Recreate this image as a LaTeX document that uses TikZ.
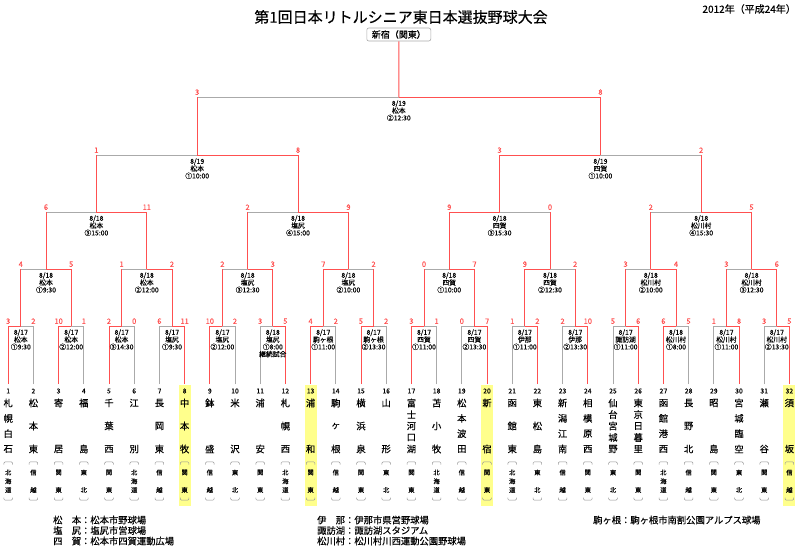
\documentclass[tikz,border=0pt]{standalone}
\usepackage{fontspec}
\setmainfont{Noto Sans CJK JP}[FakeBold=0.25]
\definecolor{lred}{RGB}{255,80,80}
\definecolor{lgray}{RGB}{170,170,170}
\definecolor{hlc}{RGB}{255,255,140}
\definecolor{brkc}{RGB}{150,150,150}

% match of round #1, index #2, scores #3 #4, winner #5 (0 left, 1 right), label #6
\newcommand\mt[6]{%
 \pgfmathtruncatemacro\rc{#1-1}%
 \pgfmathtruncatemacro\kl{2*#2-1}%
 \pgfmathtruncatemacro\kr{2*#2}%
 \pgfmathsetmacro\xL{8.2+((\kl-1)*2^\rc+(2^\rc-1)/2)*25.2}%
 \pgfmathsetmacro\xR{\xL+2^\rc*25.2}%
 \pgfmathsetmacro\xC{(\xL+\xR)/2}%
 \pgfmathsetmacro\yC{{384,326,269,212,155,97}[#1]}%
 \coordinate (m#1-#2) at (\xC,\yC);%
 \coordinate (m#1-#2L) at (\xL,\yC);%
 \coordinate (m#1-#2R) at (\xR,\yC);%
 \draw[grayln] (m#1-#2L) -- (m#1-#2R);%
 \ifnum#5=0
   \ifnum#1=1 \draw[grayln] (m\rc-\kr) -- (m#1-#2R);\else \draw[redln] (m\rc-\kr) -- (m#1-#2R);\fi
   \draw[redln] (m\rc-\kl) -- (m#1-#2L) -- (m#1-#2);%
 \else
   \ifnum#1=1 \draw[grayln] (m\rc-\kl) -- (m#1-#2L);\else \draw[redln] (m\rc-\kl) -- (m#1-#2L);\fi
   \draw[redln] (m\rc-\kr) -- (m#1-#2R) -- (m#1-#2);%
 \fi
 \node[score] (s#1-#2L) at (\xL,\yC-4.8) {#3};%
 \node[score] (s#1-#2R) at (\xR,\yC-4.8) {#4};%
 \node[mlabel] (l#1-#2) at (\xC,\yC+3.2) {#6};%
}

% team #1, #2 chars of name #3, #4 chars of region #5, highlight #6
\newcommand\team[6]{%
 \pgfmathsetmacro\tx{8.2+(#1-1)*25.2}%
 \ifnum#6=1 \fill[hlc] (\tx-6,385) rectangle (\tx+6,506);\fi
 \coordinate (m0-#1) at (\tx,384);%
 \node[tnum] (num#1) at (\tx,391) {#1};%
 \foreach \c [count=\k] in {#3} {\pgfmathsetmacro\cy{403+(\k-1)*46/(#2-1)}\node[tname] (nm#1-\k) at (\tx,\cy) {\c};}%
 \foreach \c [count=\k] in {#5} {\pgfmathsetmacro\cy{472.5+(\k-1)*17.5/(#4-1)}\node[treg] (rg#1-\k) at (\tx,\cy) {\c};}%
 \draw[brk] (\tx-4.3,464.5) -- (\tx-4.3,461.8) -- (\tx+4.3,461.8) -- (\tx+4.3,464.5);%
 \draw[brk] (\tx-4.3,497.5) -- (\tx-4.3,500.2) -- (\tx+4.3,500.2) -- (\tx+4.3,497.5);%
}

\begin{document}
\begin{tikzpicture}[x=1pt,y=-1pt,
 redln/.style={draw=lred,line width=0.95pt},
 grayln/.style={draw=lgray,line width=0.95pt},
 score/.style={text=lred,font=\fontsize{7.5}{7.5}\selectfont,inner sep=0pt},
 mlabel/.style={font=\fontsize{6.8}{7.3}\selectfont,align=center,inner sep=0pt,anchor=north},
 tnum/.style={font=\fontsize{6.8}{6.8}\selectfont,inner sep=0pt},
 tname/.style={font=\fontsize{9.3}{9.3}\selectfont,inner sep=0pt},
 treg/.style={font=\fontsize{6.3}{6.3}\selectfont,inner sep=0pt},
 brk/.style={draw=brkc,line width=0.5pt,rounded corners=1.2pt},
 legend/.style={font=\fontsize{9.3}{10.5}\selectfont,inner sep=0pt,anchor=west}]
\fill[white] (0,0) rectangle (800,547);
\useasboundingbox (0,0) rectangle (800,547);

\node[font=\fontsize{15}{15}\selectfont,inner sep=0pt] (title) at (401,17) {第1回日本リトルシニア東日本選抜野球大会};
\node[font=\fontsize{10}{10}\selectfont,inner sep=0pt,anchor=east] (year) at (796,9) {2012年（平成24年）};

\team{1}{4}{札,幌,白,石}{3}{北,海,道}{0}
\team{2}{3}{松,本,東}{2}{信,越}{0}
\team{3}{2}{寄,居}{2}{関,東}{0}
\team{4}{2}{福,島}{2}{東,北}{0}
\team{5}{3}{千,葉,西}{2}{関,東}{0}
\team{6}{2}{江,別}{3}{北,海,道}{0}
\team{7}{3}{長,岡,東}{2}{信,越}{0}
\team{8}{3}{中,本,牧}{2}{関,東}{1}
\team{9}{2}{鉢,盛}{2}{信,越}{0}
\team{10}{2}{米,沢}{2}{東,北}{0}
\team{11}{2}{浦,安}{2}{関,東}{0}
\team{12}{3}{札,幌,西}{3}{北,海,道}{0}
\team{13}{2}{浦,和}{2}{関,東}{1}
\team{14}{3}{駒,ヶ,根}{2}{信,越}{0}
\team{15}{3}{横,浜,泉}{2}{関,東}{0}
\team{16}{2}{山,形}{2}{東,北}{0}
\team{17}{5}{富,士,河,口,湖}{2}{関,東}{0}
\team{18}{3}{苫,小,牧}{3}{北,海,道}{0}
\team{19}{4}{松,本,波,田}{2}{信,越}{0}
\team{20}{2}{新,宿}{2}{関,東}{1}
\team{21}{3}{函,館,東}{3}{北,海,道}{0}
\team{22}{3}{東,松,島}{2}{東,北}{0}
\team{23}{4}{新,潟,江,南}{2}{信,越}{0}
\team{24}{4}{相,模,原,西}{2}{関,東}{0}
\team{25}{5}{仙,台,宮,城,野}{2}{東,北}{0}
\team{26}{5}{東,京,日,暮,里}{2}{関,東}{0}
\team{27}{4}{函,館,港,西}{3}{北,海,道}{0}
\team{28}{3}{長,野,北}{2}{信,越}{0}
\team{29}{2}{昭,島}{2}{関,東}{0}
\team{30}{4}{宮,城,臨,空}{2}{東,北}{0}
\team{31}{2}{瀬,谷}{2}{関,東}{0}
\team{32}{2}{須,坂}{2}{信,越}{1}

% round 1
\mt{1}{1}{3}{2}{0}{8/17\\松本\\①9:30}
\mt{1}{2}{10}{1}{0}{8/17\\松本\\②12:00}
\mt{1}{3}{2}{0}{0}{8/17\\松本\\③14:30}
\mt{1}{4}{6}{11}{1}{8/17\\塩尻\\①9:30}
\mt{1}{5}{10}{2}{0}{8/17\\塩尻\\②12:00}
\mt{1}{6}{3}{5}{1}{8/18\\塩尻\\①8:00\\継続試合}
\mt{1}{7}{4}{2}{0}{8/17\\駒ヶ根\\①11:00}
\mt{1}{8}{5}{2}{0}{8/17\\駒ヶ根\\②13:30}
\mt{1}{9}{3}{1}{0}{8/17\\四賀\\①11:00}
\mt{1}{10}{0}{7}{1}{8/17\\四賀\\②13:30}
\mt{1}{11}{1}{2}{1}{8/17\\伊那\\①11:00}
\mt{1}{12}{2}{10}{1}{8/17\\伊那\\②13:30}
\mt{1}{13}{5}{6}{1}{8/17\\諏訪湖\\①11:00}
\mt{1}{14}{6}{5}{0}{8/18\\松川村\\①8:00}
\mt{1}{15}{1}{8}{1}{8/17\\松川村\\①11:00}
\mt{1}{16}{3}{5}{1}{8/17\\松川村\\②13:30}
% round 2
\mt{2}{1}{4}{5}{1}{8/18\\松本\\①9:30}
\mt{2}{2}{1}{2}{1}{8/18\\松本\\②12:00}
\mt{2}{3}{2}{3}{1}{8/18\\塩尻\\③12:30}
\mt{2}{4}{7}{2}{0}{8/18\\塩尻\\②10:00}
\mt{2}{5}{0}{7}{1}{8/18\\四賀\\①10:00}
\mt{2}{6}{9}{2}{0}{8/18\\四賀\\②12:30}
\mt{2}{7}{3}{4}{1}{8/18\\松川村\\②10:00}
\mt{2}{8}{3}{6}{1}{8/18\\松川村\\③12:30}
% quarter finals
\mt{3}{1}{6}{11}{1}{8/18\\松本\\③15:00}
\mt{3}{2}{2}{9}{1}{8/18\\塩尻\\④15:00}
\mt{3}{3}{9}{0}{0}{8/18\\四賀\\③15:30}
\mt{3}{4}{2}{5}{1}{8/18\\松川村\\④15:30}
% semi finals
\mt{4}{1}{1}{8}{1}{8/19\\松本\\①10:00}
\mt{4}{2}{3}{2}{0}{8/19\\四賀\\①10:00}
% final
\mt{5}{1}{3}{8}{1}{8/19\\松本\\②12:30}

\node[draw=lgray,line width=0.6pt,rounded corners=2pt,font=\fontsize{9}{9}\selectfont,
      minimum width=64pt,minimum height=13pt,inner sep=1pt] (champ) at (398.8,34.5) {新宿（関東）};
\draw[redln] (champ.south) -- (m5-1);

\node[legend] (lg1) at (53,520) {松　本：松本市野球場};
\node[legend] (lg2) at (53,530.5) {塩　尻：塩尻市営球場};
\node[legend] (lg3) at (53,541) {四　賀：松本市四賀運動広場};
\node[legend] (lg4) at (317,520) {伊　那：伊那市県営野球場};
\node[legend] (lg5) at (317,530.5) {諏訪湖：諏訪湖スタジアム};
\node[legend] (lg6) at (317,541) {松川村：松川村川西運動公園野球場};
\node[legend] (lg7) at (593,520) {駒ヶ根：駒ヶ根市南割公園アルプス球場};
\end{tikzpicture}
\end{document}
